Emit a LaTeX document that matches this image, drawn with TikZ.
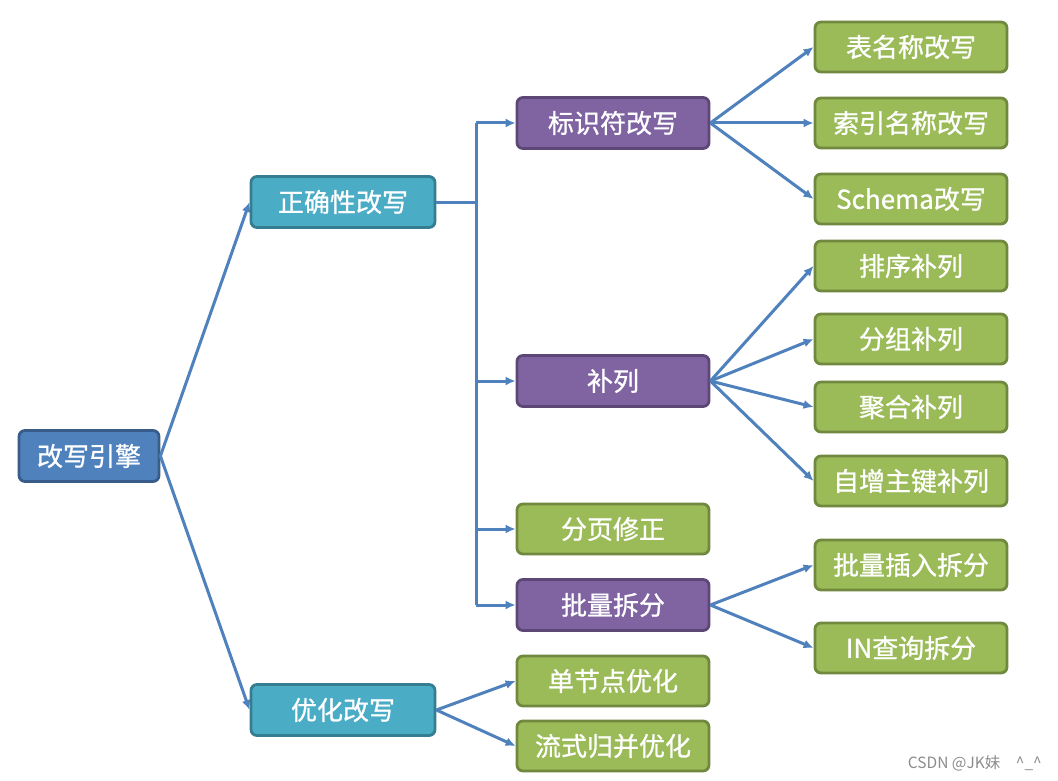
\documentclass[tikz,border=0pt]{standalone}
\usepackage{fontspec}
\setmainfont{Noto Sans CJK SC}
\newfontfamily\boxfont{Noto Sans CJK SC}[FakeBold=0.9]
\newfontfamily\wmfont{Noto Sans CJK SC}
\usetikzlibrary{arrows.meta}
\definecolor{rootfill}{HTML}{4F81BD}\definecolor{rootdraw}{HTML}{385D8A}
\definecolor{tealfill}{HTML}{4BACC6}\definecolor{tealdraw}{HTML}{357D91}
\definecolor{purpfill}{HTML}{8064A2}\definecolor{purpdraw}{HTML}{5C4776}
\definecolor{grnfill}{HTML}{9BBB59}\definecolor{grndraw}{HTML}{71893F}
\definecolor{arrowc}{HTML}{4F81BD}
\tikzset{
  box/.style={rounded corners=6pt, line width=2.8pt, text=white, font=\boxfont\fontsize{26}{30}\selectfont, inner sep=0pt, anchor=center},
  rootbox/.style={box, fill=rootfill, draw=rootdraw, minimum width=140pt, minimum height=51pt},
  tealbox/.style={box, fill=tealfill, draw=tealdraw, minimum width=184pt, minimum height=51pt},
  purpbox/.style={box, fill=purpfill, draw=purpdraw, minimum width=192pt, minimum height=51pt},
  grnbox/.style={box, fill=grnfill, draw=grndraw, minimum width=192pt, minimum height=50pt},
  conn/.style={draw=arrowc, line width=3pt, -{Latex[length=10pt,width=9pt]}},
  plain/.style={draw=arrowc, line width=3pt}
}
\begin{document}
\begin{tikzpicture}[x=1pt,y=-1pt]
\useasboundingbox[fill=white] (0,0) rectangle (1058,781);
\node[rootbox] (root) at (89,456) {改写引擎};
\node[tealbox] (zq) at (343,202) {正确性改写};
\node[tealbox] (yh) at (343,710) {优化改写};
\node[purpbox] (bsf) at (613,123) {标识符改写};
\node[purpbox] (bl) at (613,381) {补列};
\node[grnbox] (fy) at (613,529) {分页修正};
\node[purpbox] (plcf) at (613,605) {批量拆分};
\node[grnbox] (dj) at (613,681) {单节点优化};
\node[grnbox] (ls) at (613,746) {流式归并优化};
\node[grnbox] (t1) at (911,47) {表名称改写};
\node[grnbox] (t2) at (911,123) {索引名称改写};
\node[grnbox] (t3) at (911,199) {Schema改写};
\node[grnbox] (t4) at (911,266) {排序补列};
\node[grnbox] (t5) at (911,339) {分组补列};
\node[grnbox] (t6) at (911,407) {聚合补列};
\node[grnbox] (t7) at (911,481) {自增主键补列};
\node[grnbox] (t8) at (911,565) {批量插入拆分};
\node[grnbox] (t9) at (911,648) {IN查询拆分};
\coordinate (bus) at (476,202);
\coordinate (bustop) at (476,123);
\coordinate (busbot) at (476,605);
\draw[conn] (root.east) -- (zq.west);
\draw[conn] (root.east) -- (yh.west);
\draw[plain] (zq.east) -- (bus);
\draw[plain] (bustop) -- (busbot);
\draw[conn] (bustop) -- (bsf.west);
\draw[conn] (bus |- bl.west) -- (bl.west);
\draw[conn] (bus |- fy.west) -- (fy.west);
\draw[conn] (busbot) -- (plcf.west);
\foreach \t in {t1,t2,t3} \draw[conn] (bsf.east) -- (\t.west);
\foreach \t in {t4,t5,t6,t7} \draw[conn] (bl.east) -- (\t.west);
\foreach \t in {t8,t9} \draw[conn] (plcf.east) -- (\t.west);
\draw[conn] (yh.east) -- (dj.west);
\draw[conn] (yh.east) -- (ls.west);
\node[text=black!45, font=\wmfont\fontsize{15.5}{18}\selectfont, anchor=east, inner sep=0pt] (wm) at (1042,763) {CSDN @JK妹\quad\^{}\_\^{}};
\end{tikzpicture}
\end{document}
